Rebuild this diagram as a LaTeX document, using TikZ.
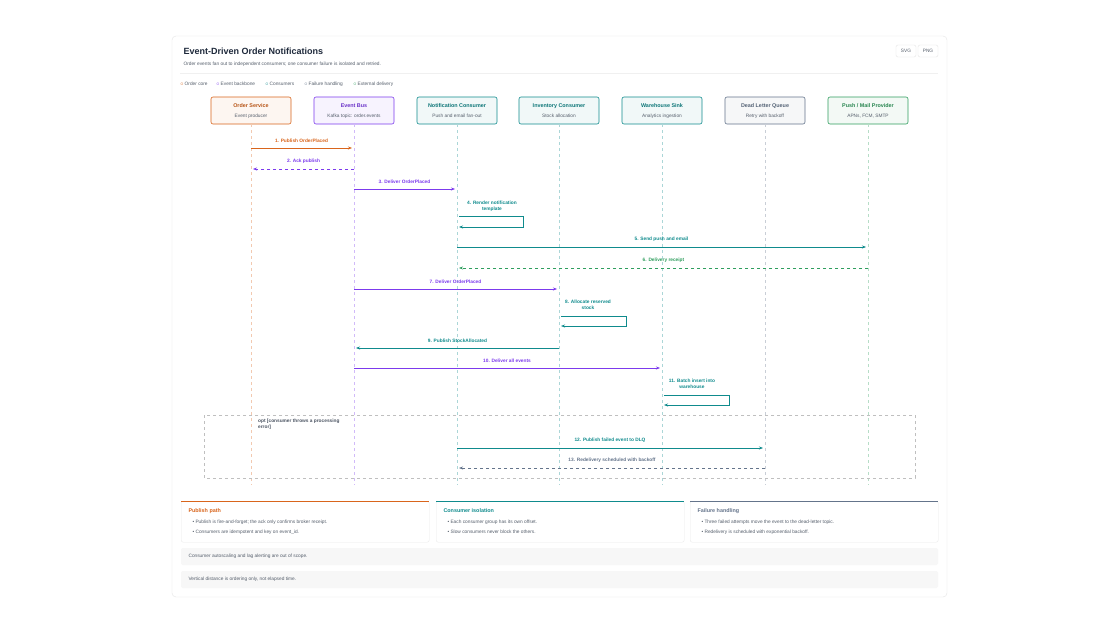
\documentclass[tikz,border=0pt]{standalone}
\usepackage{fontspec}
\setmainfont{Liberation Sans}
\usetikzlibrary{arrows.meta,positioning}
\definecolor{corec}{HTML}{D9651C}
\definecolor{busc}{HTML}{7C3AED}
\definecolor{consc}{HTML}{0F8B8D}
\definecolor{failc}{HTML}{64748B}
\definecolor{extc}{HTML}{2F9E5E}
\definecolor{inkc}{HTML}{1E293B}
\tikzset{
  actor/.style={draw=#1,fill=#1!6,rounded corners=2pt,minimum width=80pt,minimum height=27pt,line width=0.6pt},
  life/.style={draw=#1!35,dashed,line width=0.4pt},
  msg/.style={draw=#1,-{Stealth[length=4pt]},line width=0.6pt},
  rep/.style={msg=#1,dashed},
  mlab/.style={font=\fontsize{4.8}{5.7}\selectfont\bfseries,text=#1,align=center},
  small/.style={font=\fontsize{4.8}{5.7}\selectfont,text=inkc!75},
  card/.style={draw=black!8,fill=white,rounded corners=2pt,minimum width=248pt,minimum height=41pt,anchor=north west},
}
\begin{document}
\begin{tikzpicture}[x=1pt,y=-1pt]
\useasboundingbox (0,0) rectangle (1120,640);
\fill[white] (0,0) rectangle (1120,640);
\draw[black!10,fill=white,rounded corners=4pt] (172,36) rectangle (947,597);
% header
\node[anchor=west,font=\fontsize{9}{10}\selectfont\bfseries,text=inkc] (title) at (180,51) {Event-Driven Order Notifications};
\node[anchor=west,small] (sub) at (180,64) {Order events fan out to independent consumers; one consumer failure is isolated and retried.};
\node[draw=black!10,rounded corners=2pt,small,minimum width=20pt,minimum height=12pt] (svg) at (906,51) {SVG};
\node[draw=black!10,rounded corners=2pt,small,minimum width=20pt,minimum height=12pt] (png) at (928,51) {PNG};
\draw[black!6] (180,73) -- (938,73);
% legend
\foreach \c/\t/\x in {corec/Order core/180,busc/Event backbone/216,consc/Consumers/265,failc/Failure handling/304,extc/External delivery/353}
  \node[small,anchor=west,inner sep=0pt] at (\x,84) {\textcolor{\c}{$\circ$}\,\t};
% participants
\foreach \n/\x/\c/\t/\s in {os/251/corec/Order Service/Event producer,
  bus/354/busc/Event Bus/Kafka topic: order.events,
  nc/457/consc/Notification Consumer/Push and email fan-out,
  ic/559/consc/Inventory Consumer/Stock allocation,
  ws/662/consc/Warehouse Sink/Analytics ingestion,
  dlq/765/failc/Dead Letter Queue/Retry with backoff,
  pm/868/extc/{Push / Mail Provider}/{APNs, FCM, SMTP}}{
  \node[actor=\c] (\n) at (\x,110.5) {};
  \node[font=\fontsize{5.4}{6}\selectfont\bfseries,text=\c!85!black] at (\x,106) {\t};
  \node[small] at (\x,116) {\s};
  \coordinate (\n-end) at (\x,485);
  \draw[life=\c] (\n.south) -- (\n-end);
}
% opt frame
\draw[black!25,dashed,line width=0.4pt] (204,415) rectangle (915,478);
\node[anchor=north west,font=\fontsize{4.8}{5.7}\selectfont\bfseries,text=inkc!80,align=left,inner sep=0pt] (opt) at (258,419) {opt [consumer throws a processing\\error]};
% messages
\draw[msg=corec] (251,148) -- node[mlab=corec,above=2pt] {1. Publish OrderPlaced} (352,148);
\draw[rep=busc] (354,169) -- node[mlab=busc,above=2pt] {2. Ack publish} (253,169);
\draw[msg=busc] (354,189) -- node[mlab=busc,above=2pt] {3. Deliver OrderPlaced} (455,189);
\draw[msg=consc] (459,216) -- (523,216) -- (523,227) -- (459,227);
\node[mlab=consc] at (492,206) {4. Render notification\\template};
\draw[msg=consc] (457,247) -- node[mlab=consc,above=2pt] {5. Send push and email} (866,247);
\draw[rep=extc] (868,268) -- node[mlab=extc,above=2pt] {6. Delivery receipt} (459,268);
\draw[msg=busc] (354,289) -- node[mlab=busc,above=2pt] {7. Deliver OrderPlaced} (557,289);
\draw[msg=consc] (561,316) -- (626,316) -- (626,326) -- (561,326);
\node[mlab=consc] at (588,305) {8. Allocate reserved\\stock};
\draw[msg=consc] (559,348) -- node[mlab=consc,above=2pt] {9. Publish StockAllocated} (356,348);
\draw[msg=busc] (354,368) -- node[mlab=busc,above=2pt] {10. Deliver all events} (660,368);
\draw[msg=consc] (664,395) -- (729,395) -- (729,405) -- (664,405);
\node[mlab=consc] at (692,384) {11. Batch insert into\\warehouse};
\draw[msg=consc] (457,448) -- node[mlab=consc,above=2pt] {12. Publish failed event to DLQ} (763,448);
\draw[rep=failc] (765,468) -- node[mlab=failc,above=2pt] {13. Redelivery scheduled with backoff} (459,468);
% cards
\foreach \n/\x/\c/\t/\a/\b in {pub/181/corec/Publish path/{Publish is fire-and-forget; the ack only confirms broker receipt.}/{Consumers are idempotent and key on event\_id.},
  iso/436/consc/Consumer isolation/{Each consumer group has its own offset.}/{Slow consumers never block the others.},
  fail/690/failc/Failure handling/{Three failed attempts move the event to the dead-letter topic.}/{Redelivery is scheduled with exponential backoff.}}{
  \node[card] (\n) at (\x,501) {};
  \draw[\c,line width=1pt] (\n.north west) -- (\n.north east);
  \node[anchor=west,font=\fontsize{5.4}{6}\selectfont\bfseries,text=\c] at (\x+4,511) {\t};
  \node[anchor=west,small] at (\x+8,522) {\textbullet\ \a};
  \node[anchor=west,small] at (\x+8,532) {\textbullet\ \b};
}
\fill[black!3,rounded corners=2pt] (181,548) rectangle (938,565);
\node[anchor=west,small] (n1) at (185,556.5) {Consumer autoscaling and lag alerting are out of scope.};
\fill[black!3,rounded corners=2pt] (181,571) rectangle (938,588);
\node[anchor=west,small] (n2) at (185,579.5) {Vertical distance is ordering only, not elapsed time.};
\end{tikzpicture}
\end{document}
